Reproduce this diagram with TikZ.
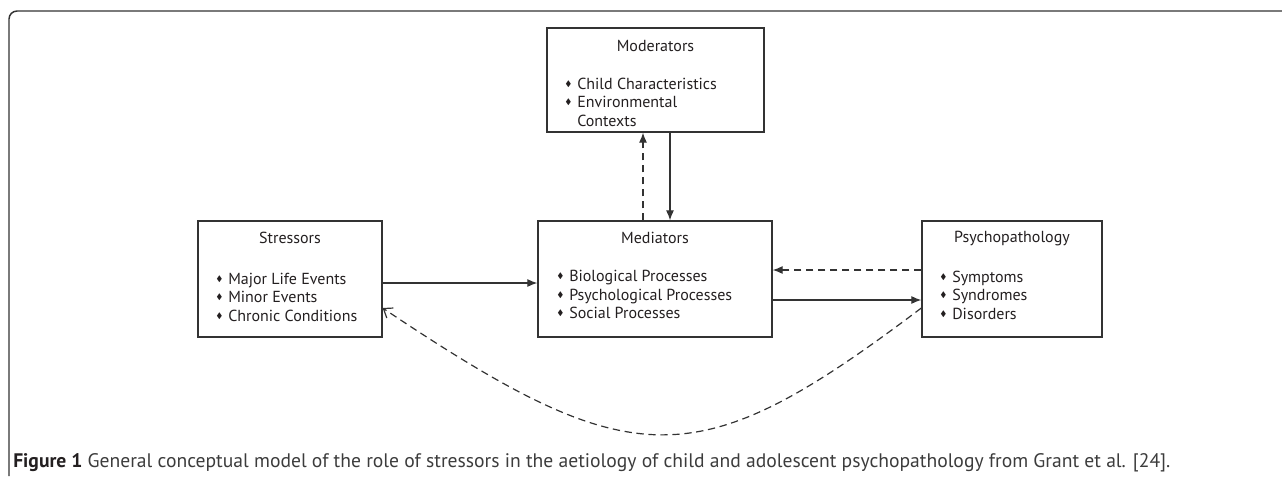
\documentclass[tikz,border=0pt]{standalone}
\usepackage{amssymb}
\usepackage{fontspec}
\setmainfont{PT Sans}
\usetikzlibrary{arrows.meta,positioning}
\definecolor{linegray}{HTML}{333333}
\definecolor{inkgray}{HTML}{231F20}
\definecolor{capgray}{HTML}{3C3C3C}
\newcommand{\bul}{\makebox[9pt][l]{\raisebox{0.35ex}{$\scriptscriptstyle\blacklozenge$}}}

\tikzset{
  panel/.style={draw=linegray, line width=0.95pt, rectangle, inner sep=0pt},
  heading/.style={text=inkgray, inner sep=0pt, font=\fontsize{12}{13.9}\selectfont},
  items/.style={heading, align=left, anchor=west},
  flow/.style={-{Latex[length=7.5pt,width=6pt]}, draw=linegray, line width=0.9pt},
  feedback/.style={flow, dash pattern=on 5.5pt off 3.5pt},
}

\begin{document}
\begin{tikzpicture}[x=0.75pt,y=-0.75pt]
  \useasboundingbox (0,0) rectangle (1282,476);
  % frame of the figure
  \draw[linegray, line width=1.1pt, rounded corners=6pt] (9,476) -- (9,11) -- (1290,11);

  % boxes
  \node[panel, minimum width={217*0.75pt}, minimum height={104*0.75pt}] (mod) at (655.5,80) {};
  \node[panel, minimum width={184*0.75pt}, minimum height={116*0.75pt}] (str) at (290,279) {};
  \node[panel, minimum width={234*0.75pt}, minimum height={116*0.75pt}] (med) at (655,279) {};
  \node[panel, minimum width={180*0.75pt}, minimum height={116*0.75pt}] (psy) at (1012,279) {};

  % titles and lists
  \node[heading] (modt) at (655.5,46) {Moderators};
  \node[items] (modl) at (565,102) {\bul Child Characteristics\\\bul Environmental\\\makebox[9pt]{}Contexts};
  \node[heading] (strt) at (290,238) {Stressors};
  \node[items] (strl) at (216,297) {\bul Major Life Events\\\bul Minor Events\\\bul Chronic Conditions};
  \node[heading] (medt) at (655,238) {Mediators};
  \node[items] (medl) at (557,294.5) {\bul Biological Processes\\\bul Psychological Processes\\\bul Social Processes};
  \node[heading] (psyt) at (1012,239) {Psychopathology};
  \node[items] (psyl) at (940,295) {\bul Symptoms\\\bul Syndromes\\\bul Disorders};

  % connectors
  \draw[flow] (mod.south -| 670,0) -- (med.north -| 670,0);
  \draw[feedback] (med.north -| 643,0) -- (mod.south -| 643,0);
  \draw[flow] ([yshift=-3pt]str.east) -- ([yshift=-3pt]med.west);
  \draw[feedback] ([yshift=6.75pt]psy.west) -- ([yshift=6.75pt]med.west -| med.east);
  \draw[flow] ([yshift=-15.75pt]med.east) -- ([yshift=-15.75pt]psy.west);
  \draw[draw=linegray, line width=0.9pt, dash pattern=on 5.5pt off 3.5pt, -{Straight Barb[length=6pt,width=9pt]}]
    ([yshift=-21.75pt]psy.west) .. controls (697,477) and (635,477) .. ([yshift=-21.75pt]str.east);

  % caption
  \node[anchor=base west, inner sep=0pt, text=capgray, font=\fontsize{14.7}{16}\selectfont] (cap) at (13,467)
    {\textbf{\color{inkgray}Figure 1} General conceptual model of the role of stressors in the aetiology of child and adolescent psychopathology from Grant et al. [24].};
\end{tikzpicture}
\end{document}
